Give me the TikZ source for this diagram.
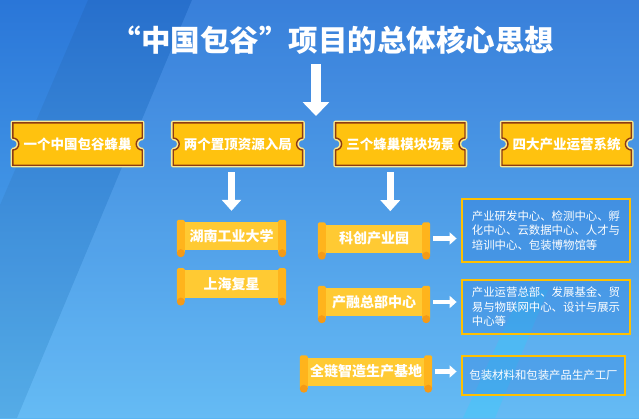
\documentclass[tikz,border=0pt]{standalone}
\usepackage{fontspec}
\setmainfont{Noto Sans CJK SC}
\usepackage{tikz}
\usetikzlibrary{
  arrows.meta,
  positioning,
  calc,
  backgrounds
}
\definecolor{bgTop}{HTML}{2A76D8}
\definecolor{bgBot}{HTML}{5AB6F4}
\definecolor{tkFill}{HTML}{FFC20F}
\definecolor{tkEdge}{HTML}{8C3A14}
\definecolor{tkRim}{HTML}{FCE98C}
\definecolor{scBody}{HTML}{FFCA33}
\definecolor{scCap}{HTML}{FFB41C}
\definecolor{scKnob}{HTML}{F59A16}
\definecolor{infoEdge}{HTML}{FFC000}
\definecolor{infoFill}{HTML}{1F6FD6}
\definecolor{stripe}{HTML}{22D6FF}
\tikzset{
  ticket/.style={
    minimum width=129pt, minimum height=42pt, inner sep=0pt,
    text=white, font=\fontsize{13.5}{16}\selectfont\bfseries
  },
  scroll/.style={
    fill=scBody, minimum height=28pt, inner sep=0pt,
    text=white, font=\fontsize{14}{16}\selectfont\bfseries
  },
  info/.style={
    draw=infoEdge, line width=2.8pt, fill=infoFill, fill opacity=0.25,
    text opacity=1, text=white, align=left, inner sep=0pt,
    font=\fontsize{11.4}{14.5}\selectfont
  },
  bigarrow/.style={-{Triangle[width=26pt, length=14pt]}, line width=10pt, white},
  downarrow/.style={-{Triangle[width=19pt, length=11pt]}, line width=7pt, white},
  sidearrow/.style={-{Triangle[width=12pt, length=7pt]}, line width=4.5pt, white}
}

\begin{document}
\begin{tikzpicture}[x=1pt, y=1pt]
  \useasboundingbox (0,0) rectangle (639,-418);

  \node[text=white, font=\fontsize{29.5}{33}\selectfont\bfseries] (title) at (333,-40) {“中国包谷”项目的总体核心思想};

  % top row
  \node[ticket] (t1) at (77.5,-144) {一个中国包谷蜂巢};
  \node[ticket, right=31pt of t1] (t2) {两个置顶资源入局};
  \node[ticket, right=33pt of t2] (t3) {三个蜂巢模块场景};
  \node[ticket, right=37pt of t3] (t4) {四大产业运营系统};

  \begin{scope}[on background layer]
    % background
    \shade[top color=bgTop, bottom color=bgBot] (0,0) rectangle (639,-418);
    \fill[black, opacity=0.05] (88,0) -- (192,0) -- (17,-418) -- (0,-418) -- (0,-205) -- cycle;
    \fill[white, opacity=0.07] (192,0) -- (639,0) -- (639,-418) -- (17,-418) -- cycle;
    \fill[stripe, opacity=0.25] (463,-418) -- (495,-418) -- (548,-290) -- (522,-290) -- cycle;
    % ticket outlines
    \foreach \n in {t1,t2,t3,t4} {
      \draw[tkRim, line width=4.5pt, line join=round]
        (\n.north west) -- (\n.north east) -- ($(\n.east)+(0,6)$)
        arc[start angle=90, end angle=270, radius=6] -- (\n.south east)
        -- (\n.south west) -- ($(\n.west)+(0,-6)$)
        arc[start angle=-90, end angle=90, radius=6] -- cycle;
      \draw[tkEdge, fill=tkFill, line width=1.4pt]
        (\n.north west) -- (\n.north east) -- ($(\n.east)+(0,6)$)
        arc[start angle=90, end angle=270, radius=6] -- (\n.south east)
        -- (\n.south west) -- ($(\n.west)+(0,-6)$)
        arc[start angle=-90, end angle=90, radius=6] -- cycle;
    }
  \end{scope}

  % scrolls
  \node[scroll, minimum width=93pt] (s1) at (231.5,-236) {湖南工业大学};
  \node[scroll, minimum width=93pt, below=20pt of s1] (s2) {上海复星};
  \node[scroll, minimum width=96pt] (s3) at (374,-238.5) {科创产业园};
  \node[scroll, minimum width=96pt] (s4) at (374,-302) {产融总部中心};
  \node[scroll, minimum width=116pt] (s5) at (366,-371.5) {全链智造生产基地};
  \foreach \n in {s1,s2,s3,s4,s5} {
    \fill[scCap, rounded corners=1.5pt] ($(\n.north west)+(-8,2)$) rectangle ($(\n.south west)+(0,-3)$);
    \fill[scCap, rounded corners=1.5pt] ($(\n.north east)+(0,2)$) rectangle ($(\n.south east)+(8,-3)$);
    \fill[scKnob] ($(\n.south west)+(-4,-3)$) circle (4);
    \fill[scKnob] ($(\n.south east)+(4,-3)$) circle (4);
  }

  % detail boxes
  \node[info, minimum width=168pt, minimum height=63pt] (b1) at (546,-230.5)
    {产业研发中心、检测中心、孵\\化中心、云数据中心、人才与\\培训中心、包装博物馆等};
  \node[info, minimum width=168pt, minimum height=54pt] (b2) at (546,-307)
    {产业运营总部、发展基金、贸\\易与物联网中心、设计与展示\\中心等};
  \node[info, minimum width=163pt, minimum height=39pt] (b3) at (543.5,-375.5)
    {包装材料和包装产品生产工厂};

  % arrows
  \coordinate (hub) at (316,-64);
  \coordinate (row) at (316,-116);
  \draw[bigarrow] (hub) -- (row);
  \draw[downarrow, shorten <=7pt, shorten >=11pt] (t2.south -| s1.north) -- (s1.north);
  \coordinate (t3foot) at ($(t3.south)+(-10,-7)$);
  \draw[downarrow] (t3foot) -- ++(0,-39);
  \draw[sidearrow, shorten <=11pt, shorten >=4pt] (s3.east) -- (s3.east -| b1.west);
  \draw[sidearrow, shorten <=11pt, shorten >=4pt] (s4.east) -- (s4.east -| b2.west);
  \draw[sidearrow, shorten <=11pt, shorten >=4pt] (s5.east) -- (s5.east -| b3.west);
\end{tikzpicture}
\end{document}
